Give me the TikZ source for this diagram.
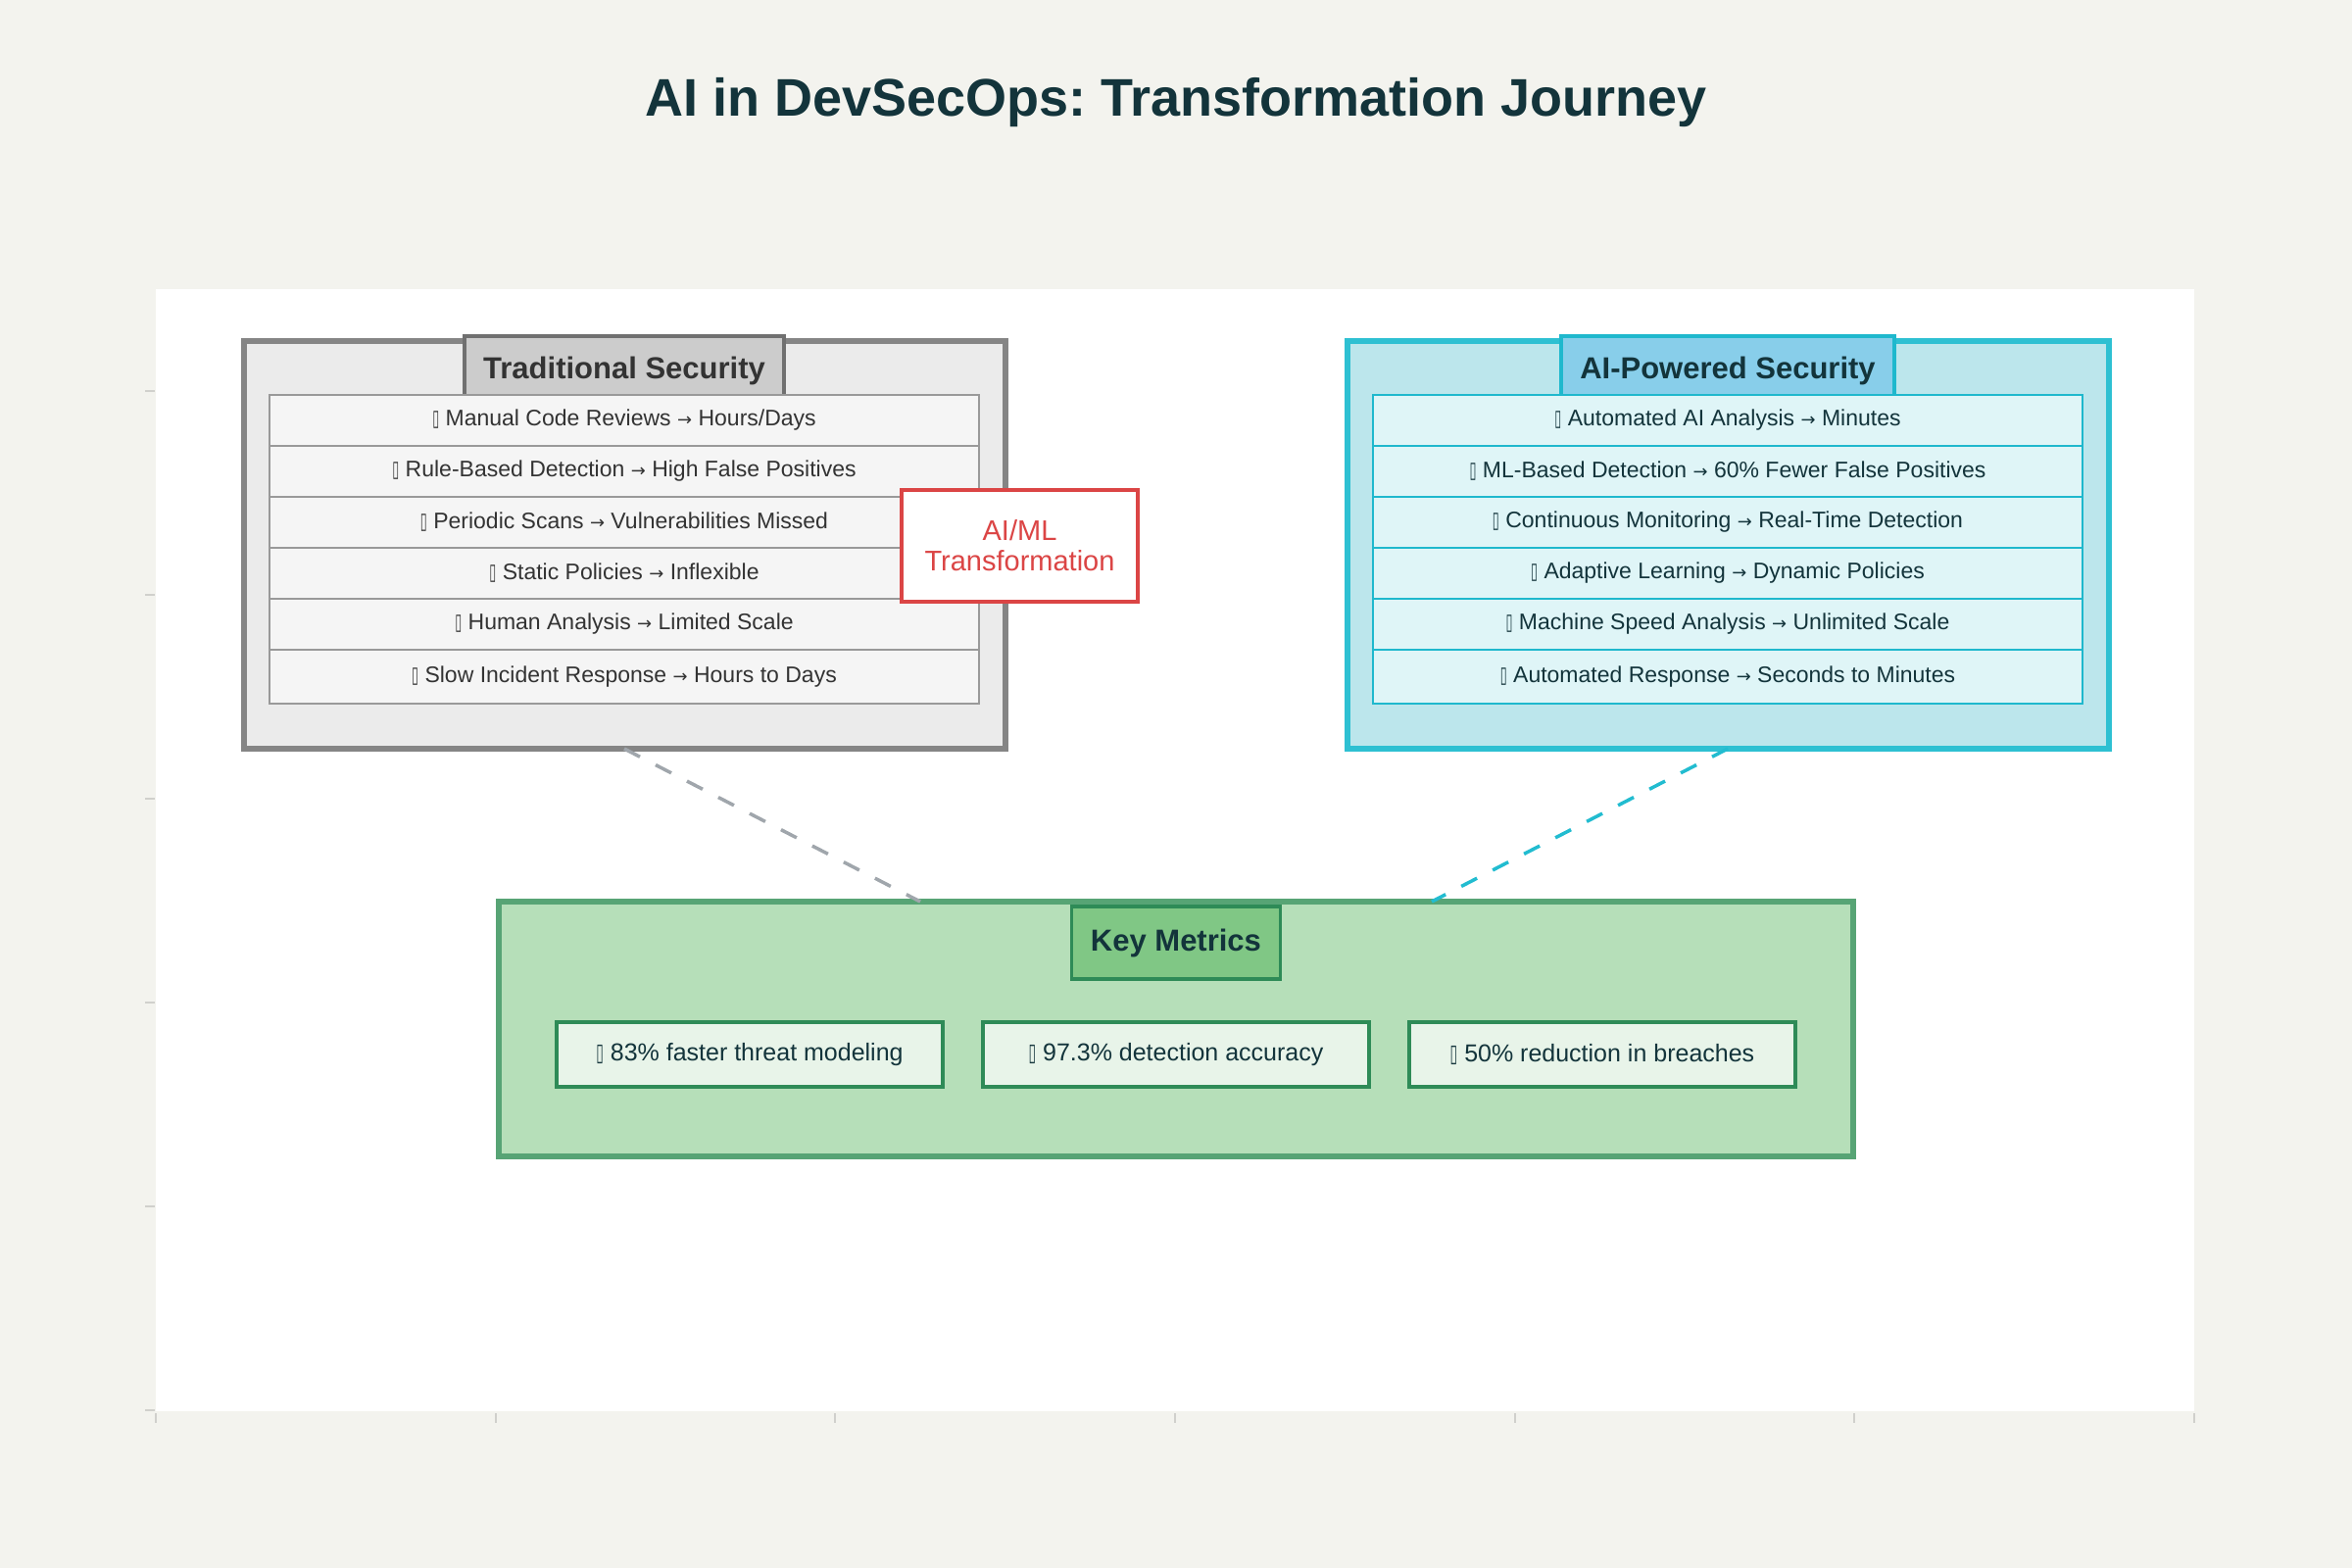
\documentclass[tikz,border=0pt]{standalone}
\usepackage{fontspec}
\setmainfont{Liberation Sans}
\newfontfamily\dvs{DejaVu Sans}
\usetikzlibrary{calc}
\frenchspacing
\definecolor{pagebg}{HTML}{F3F3EE}
\definecolor{tickc}{HTML}{D0D0CC}
\definecolor{titlec}{HTML}{13343B}
\definecolor{tradf}{HTML}{EBEBEB}
\definecolor{tradb}{HTML}{858585}
\definecolor{tradtabf}{HTML}{CCCCCC}
\definecolor{tradtabb}{HTML}{707070}
\definecolor{tradrowf}{HTML}{F5F5F5}
\definecolor{tradrowb}{HTML}{999999}
\definecolor{tradtxt}{HTML}{333333}
\definecolor{aif}{HTML}{BCE6EC}
\definecolor{aib}{HTML}{2EC0D2}
\definecolor{aitabf}{HTML}{88CEEA}
\definecolor{aitabb}{HTML}{1FB8CD}
\definecolor{airowf}{HTML}{DFF5F7}
\definecolor{airowb}{HTML}{1FB8CD}
\definecolor{redc}{HTML}{DB4545}
\definecolor{keyf}{HTML}{B6DFB9}
\definecolor{keyb}{HTML}{57A475}
\definecolor{keytabf}{HTML}{80C785}
\definecolor{keytabb}{HTML}{2E8B57}
\definecolor{metf}{HTML}{E8F4E9}
\definecolor{grayline}{HTML}{A0A6AC}
\definecolor{cyanline}{HTML}{22BCD0}
\newcommand{\tofu}{{\dvs\scalebox{0.55}[1]{▯}}}
\newcommand{\arr}{\scalebox{0.78}{\dvs →}}
\begin{document}
\begin{tikzpicture}[x=0.5pt,y=-0.5pt,
  every node/.style={inner sep=0pt, outer sep=0pt, align=center},
  outerT/.style={draw=tradb, fill=tradf, line width=3pt, minimum width=388.5pt, minimum height=208pt},
  outerA/.style={draw=aib, fill=aif, line width=3pt, minimum width=388.5pt, minimum height=208pt},
  tabT/.style={draw=tradtabb, fill=tradtabf, line width=1.85pt, minimum width=163pt, minimum height=35pt, text=tradtxt, font=\bfseries\fontsize{15.5}{18}\selectfont},
  tabA/.style={draw=aitabb, fill=aitabf, line width=1.85pt, minimum width=170pt, minimum height=35pt, text=titlec, font=\bfseries\fontsize{15.5}{18}\selectfont},
  rowT/.style={draw=tradrowb, fill=tradrowf, line width=1pt, minimum width=362pt, minimum height=26pt, text=tradtxt, font=\fontsize{11.5}{14}\selectfont},
  rowA/.style={draw=airowb, fill=airowf, line width=1pt, minimum width=362pt, minimum height=26pt, text=titlec, font=\fontsize{11.5}{14}\selectfont},
  lastrow/.style={minimum height=27.5pt},
  redbox/.style={draw=redc, fill=white, line width=2pt, minimum width=120.5pt, minimum height=57pt, text=redc, font=\fontsize{14.5}{15.5}\selectfont},
  keyouter/.style={draw=keyb, fill=keyf, line width=2.75pt, minimum width=691pt, minimum height=130pt},
  keytab/.style={draw=keytabb, fill=keytabf, line width=1.65pt, minimum width=106.5pt, minimum height=37pt, text=titlec, font=\bfseries\fontsize{15.5}{18}\selectfont},
  metric/.style={draw=keytabb, fill=metf, line width=2pt, minimum width=197pt, minimum height=33pt, text=titlec, font=\fontsize{12.5}{15}\selectfont},
  conn/.style={line width=1.75pt, dash pattern=on 9pt off 9pt},
  tickl/.style={draw=tickc, line width=0.9pt}
]
\useasboundingbox (0,0) rectangle (2400,1600);
\fill[pagebg] (0,0) rectangle (2400,1600);
\fill[white] (159,295) rectangle (2239,1440);
% ticks
\foreach \yy in {399,607,815,1023,1231,1439} \draw[tickl] (148,\yy) -- (158,\yy);
\foreach \xx in {159,506,852,1199,1546,1892,2239} \draw[tickl] (\xx,1442) -- (\xx,1452);

\node[font=\bfseries\fontsize{27}{32}\selectfont, text=titlec, anchor=base] (title) at (1200,119) {AI in DevSecOps: Transformation Journey};

% traditional
\node[outerT] (trad) at (637,556) {};
\node[tabT] (tradtab) at (637,378) {Traditional Security};
\node[rowT] (t1) at (637,429) {\tofu\ Manual Code Reviews \arr\ Hours/Days};
\node[rowT] (t2) at (637,481) {\tofu\ Rule-Based Detection \arr\ High False Positives};
\node[rowT] (t3) at (637,533) {\tofu\ Periodic Scans \arr\ Vulnerabilities Missed};
\node[rowT] (t4) at (637,585) {\tofu\ Static Policies \arr\ Inflexible};
\node[rowT] (t5) at (637,637) {\tofu\ Human Analysis \arr\ Limited Scale};
\node[rowT,lastrow] (t6) at (637,690.5) {\tofu\ Slow Incident Response \arr\ Hours to Days};

% AI powered
\node[outerA] (ai) at (1763,556) {};
\node[tabA] (aitab) at (1763,378) {AI-Powered Security};
\node[rowA] (a1) at (1763,429) {\tofu\ Automated AI Analysis \arr\ Minutes};
\node[rowA] (a2) at (1763,481) {\tofu\ ML-Based Detection \arr\ 60\% Fewer False Positives};
\node[rowA] (a3) at (1763,533) {\tofu\ Continuous Monitoring \arr\ Real-Time Detection};
\node[rowA] (a4) at (1763,585) {\tofu\ Adaptive Learning \arr\ Dynamic Policies};
\node[rowA] (a5) at (1763,637) {\tofu\ Machine Speed Analysis \arr\ Unlimited Scale};
\node[rowA,lastrow] (a6) at (1763,690.5) {\tofu\ Automated Response \arr\ Seconds to Minutes};

% transformation
\node[redbox] (trans) at (1040.5,557) {AI/ML\\Transformation};

% key metrics
\node[keyouter] (key) at (1200,1050) {};
\node[keytab] (keytab) at (1200,962) {Key Metrics};
\node[metric] (m1) at (765,1076) {\tofu\ 83\% faster threat modeling};
\node[metric] (m2) at (1200,1076) {\tofu\ 97.3\% detection accuracy};
\node[metric] (m3) at (1635,1076) {\tofu\ 50\% reduction in breaches};

\coordinate (keyL) at ($(key.north)+(-261,0)$);
\coordinate (keyR) at ($(key.north)+(261,0)$);
\draw[conn, draw=grayline] (trad.south) -- (keyL);
\draw[conn, draw=cyanline] (ai.south) -- (keyR);
\end{tikzpicture}
\end{document}
